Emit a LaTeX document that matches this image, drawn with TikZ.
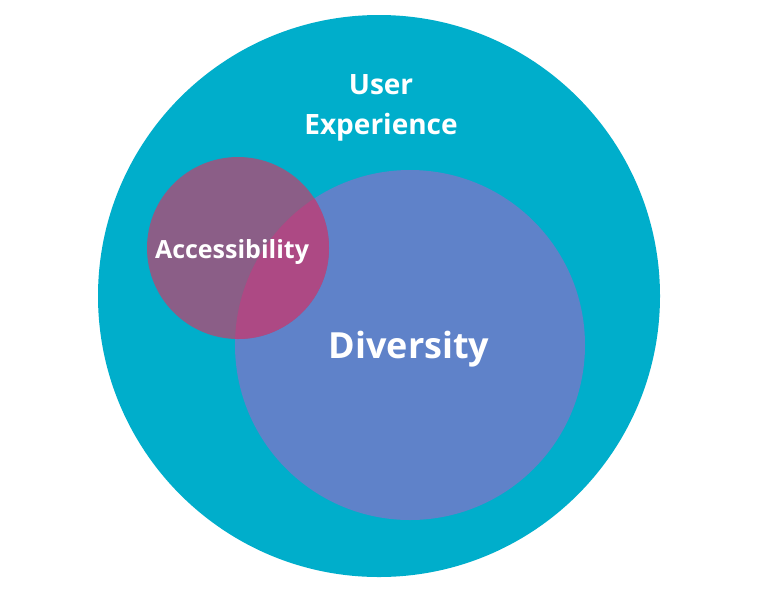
\documentclass[tikz,border=0pt]{standalone}
\usepackage{fontspec}
\setmainfont{Open Sans}
\usepackage{xcolor}
\usepackage{tikz}
\definecolor{vennteal}{RGB}{0,174,203}
\definecolor{vennblue}{RGB}{95,130,201}
\definecolor{vennplum}{RGB}{139,94,135}
\definecolor{vennpink}{RGB}{173,73,132}
\tikzset{
  venntext/.style={
    text=white,
    align=center,
    inner sep=0pt,
    font=\bfseries
  }
}
\begin{document}
\begin{tikzpicture}[x=1pt,y=-1pt]
\useasboundingbox[fill=white] (0,0) rectangle (757,598);
\fill[vennteal] (379,296) circle (281);
\fill[vennblue] (410,345) circle (175);
\fill[vennplum] (238,248) circle (91);
\begin{scope}
  \clip (238,248) circle (91);
  \fill[vennpink] (410,345) circle (175);
\end{scope}
\node[venntext, font=\bfseries\fontsize{28}{40}\selectfont] (ux) at (381,108) {User\\Experience};
\node[venntext, font=\bfseries\fontsize{25}{30}\selectfont] (acc) at (232,252) {Accessibility};
\node[venntext, font=\bfseries\fontsize{36}{40}\selectfont] (div) at (409,349) {Diversity};
\end{tikzpicture}
\end{document}
